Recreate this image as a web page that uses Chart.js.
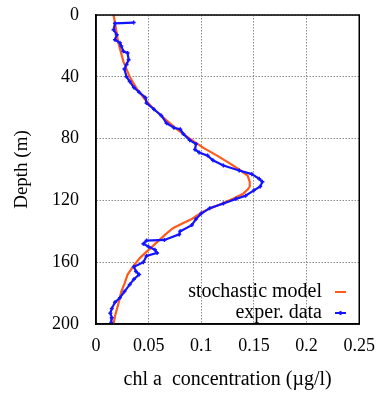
<!DOCTYPE html>
<html>
<head>
<meta charset="utf-8">
<script src="https://cdn.jsdelivr.net/npm/chart.js@4.4.1/dist/chart.umd.min.js"></script>
<style>
  html, body { margin: 0; padding: 0; background: #fff; }
  #wrap { width: 386px; height: 395px; }
</style>
</head>
<body>
<div id="wrap"><canvas id="chl"></canvas></div>
<script>
// stochastic model profile
const modelDepth = [0, 9, 18, 30, 40, 48, 55, 61, 67, 74, 80, 86, 91, 96, 100, 104, 108, 111, 113, 116, 119, 122, 125, 128, 132, 135, 138, 142, 147, 152, 157, 162, 168, 174, 179, 185, 190, 195, 200];
const modelConc  = [0.0167, 0.019, 0.0212, 0.026, 0.032, 0.039, 0.047, 0.055, 0.065, 0.077, 0.089, 0.102, 0.115, 0.127, 0.136, 0.144, 0.146, 0.146, 0.144, 0.139, 0.130, 0.120, 0.109, 0.100, 0.091, 0.082, 0.073, 0.066, 0.058, 0.050, 0.042, 0.036, 0.030, 0.027, 0.024, 0.022, 0.020, 0.018, 0.0167];

// measured profile
const expDepth = [4.9, 5.4, 9.6, 12.8, 16, 18, 20, 23.5, 24.6, 29, 32, 35, 40, 43, 47, 50, 53.5, 57, 61, 65, 70, 73, 74, 77, 81, 83.5, 87, 89, 91, 94, 97.4, 100.6, 103, 106, 108, 111, 113.5, 117, 119, 122, 125, 128.5, 132, 136, 140, 142, 145.6, 146, 148, 150, 152, 154, 156, 160, 163, 166, 168, 171, 174.5, 179, 183, 186, 190, 193, 196, 199];
const expConc  = [0.0358, 0.018, 0.0167, 0.0197, 0.018, 0.0227, 0.024, 0.026, 0.030, 0.031, 0.029, 0.027, 0.029, 0.032, 0.036, 0.041, 0.047, 0.048, 0.055, 0.062, 0.067, 0.074, 0.080, 0.083, 0.089, 0.095, 0.094, 0.098, 0.106, 0.111, 0.121, 0.136, 0.148, 0.155, 0.158, 0.156, 0.150, 0.142, 0.133, 0.121, 0.108, 0.100, 0.095, 0.091, 0.080, 0.079, 0.065, 0.048, 0.045, 0.050, 0.056, 0.058, 0.048, 0.045, 0.036, 0.038, 0.041, 0.036, 0.032, 0.027, 0.0227, 0.018, 0.015, 0.0136, 0.015, 0.0145];

const seriesNames = ["stochastic model", "exper. data"];
const xTickLabels = {"0": "0", "0.05": "0.05", "0.1": "0.1", "0.15": "0.15", "0.2": "0.2", "0.25": "0.25"};
const yTickLabels = {"0": "0", "40": "40", "80": "80", "120": "120", "160": "160", "200": "200"};

const serif = "'Liberation Serif', 'DejaVu Serif', serif";

function toPoints(xs, ys) {
  return xs.map((x, i) => ({x: x, y: ys[i]}));
}

// frame round the plot + legend inside the plot
const framePlugin = {
  id: 'frame',
  afterDatasetsDraw(chart) {
    const {ctx, chartArea: a} = chart;
    ctx.save();
    ctx.strokeStyle = '#000';
    ctx.lineWidth = 1.5;
    ctx.strokeRect(a.left, a.top, a.right - a.left, a.bottom - a.top);

    ctx.font = "20px " + serif;
    ctx.textAlign = 'right';
    ctx.textBaseline = 'middle';
    ctx.fillStyle = '#000';
    const rows = [292, 313];
    chart.data.datasets.forEach((ds, i) => {
      const y = rows[i];
      ctx.fillText(ds.label, 322, y);
      ctx.strokeStyle = ds.borderColor;
      ctx.lineWidth = 2;
      ctx.beginPath();
      ctx.moveTo(335, y);
      ctx.lineTo(346, y);
      ctx.stroke();
      if (ds.pointRadius > 0) {
        ctx.beginPath();
        ctx.moveTo(340.5, y - 2);
        ctx.lineTo(340.5, y + 2);
        ctx.stroke();
      }
    });
    ctx.restore();
  }
};

new Chart(document.getElementById('chl').getContext('2d'), {
  type: 'scatter',
  data: {
    datasets: [
      {
        label: seriesNames[0],
        data: toPoints(modelConc, modelDepth),
        showLine: true,
        borderColor: '#ff5a1e',
        backgroundColor: '#ff5a1e',
        borderWidth: 2.2,
        pointRadius: 0,
        order: 2
      },
      {
        label: seriesNames[1],
        data: toPoints(expConc, expDepth),
        showLine: true,
        borderColor: '#1414ff',
        backgroundColor: '#1414ff',
        borderWidth: 2.2,
        pointStyle: 'cross',
        pointRadius: 2,
        pointBorderWidth: 1.5,
        order: 1
      }
    ]
  },
  options: {
    responsive: true,
    maintainAspectRatio: false,
    animation: false,
    layout: { padding: { top: 15, right: 16, left: 0, bottom: 0 } },
    plugins: {
      legend: { display: false },
      tooltip: { enabled: false }
    },
    scales: {
      x: {
        type: 'linear',
        min: 0,
        max: 0.25,
        afterFit: s => { s.height = 71; },
        ticks: {
          stepSize: 0.05,
          padding: 11,
          color: '#000',
          font: { family: serif, size: 18 },
          callback: v => xTickLabels[String(+v.toFixed(2))]
        },
        grid: { color: '#8c8c8c', lineWidth: 1, drawTicks: false },
        border: { display: true, color: '#000', width: 1.5, dash: [1.5, 1.5] },
        title: {
          display: true,
          text: 'chl a  concentration (\u00b5g/l)',
          color: '#000',
          font: { family: serif, size: 20 },
          padding: { top: 4, bottom: 3 }
        }
      },
      y: {
        type: 'linear',
        reverse: true,
        min: 0,
        max: 200,
        afterFit: s => { s.width = 96; s.paddingTop = 0; s.paddingBottom = 0; },
        ticks: {
          stepSize: 40,
          padding: 17,
          color: '#000',
          font: { family: serif, size: 18 },
          callback: v => yTickLabels[String(v)]
        },
        grid: { color: '#8c8c8c', lineWidth: 1, drawTicks: false },
        border: { display: true, color: '#000', width: 1.5, dash: [1.5, 1.5] },
        title: {
          display: true,
          text: 'Depth (m)',
          color: '#000',
          font: { family: serif, size: 19 },
          padding: { top: 11, bottom: 11 }
        }
      }
    }
  },
  plugins: [framePlugin]
});
</script>
</body>
</html>
